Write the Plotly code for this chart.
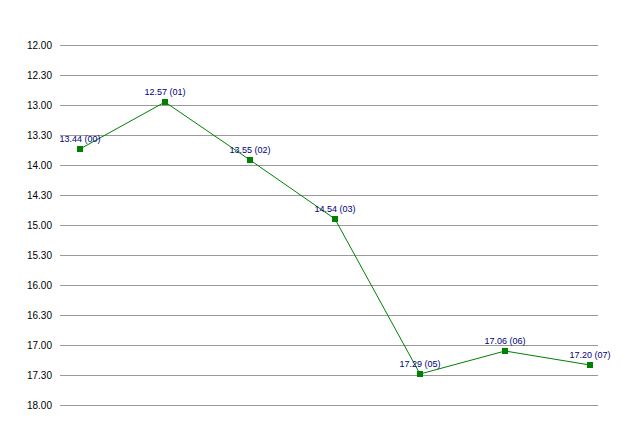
import plotly.graph_objects as go

# Times in minutes.seconds
categories = ["00", "01", "02", "03", "05", "06", "07"]
time_labels = ["13.44", "12.57", "13.55", "14.54", "17.29", "17.06", "17.20"]
# same values expressed in seconds (mm*60+ss)
seconds = [824, 777, 835, 894, 1049, 1026, 1040]

tick_vals = [720, 750, 780, 810, 840, 870, 900, 930, 960, 990, 1020, 1050, 1080]
tick_text = ["12.00", "12.30", "13.00", "13.30", "14.00", "14.30", "15.00",
             "15.30", "16.00", "16.30", "17.00", "17.30", "18.00"]

point_text = [f"{t} ({c})" for t, c in zip(time_labels, categories)]

fig = go.Figure(go.Scatter(
    x=list(range(len(categories))),
    y=seconds,
    mode="lines+markers+text",
    text=point_text,
    textposition="top center",
    cliponaxis=False,
    textfont=dict(family="Liberation Sans, Arial, sans-serif", size=9, color="#000080"),
    line=dict(color="#008000", width=1),
    marker=dict(symbol="square", size=6, color="#008000"),
    hoverinfo="skip",
))

fig.update_layout(
    width=638, height=435,
    margin=dict(l=60, r=40, t=43, b=28),
    paper_bgcolor="white", plot_bgcolor="white",
    showlegend=False,
    xaxis=dict(range=[-0.235, 6.094], showgrid=False, showticklabels=False,
               zeroline=False, showline=False, ticks=""),
    yaxis=dict(range=[1082, 718], tickvals=tick_vals, ticktext=tick_text,
               showgrid=True, gridcolor="#999999", gridwidth=1, zeroline=False,
               showline=False, ticks="", ticklabelstandoff=7,
               tickfont=dict(family="Liberation Sans, Arial, sans-serif",
                             size=10, color="black")),
)

fig.write_html("out.html", config={"displayModeBar": False},
               post_script="document.body.style.margin='0';")
